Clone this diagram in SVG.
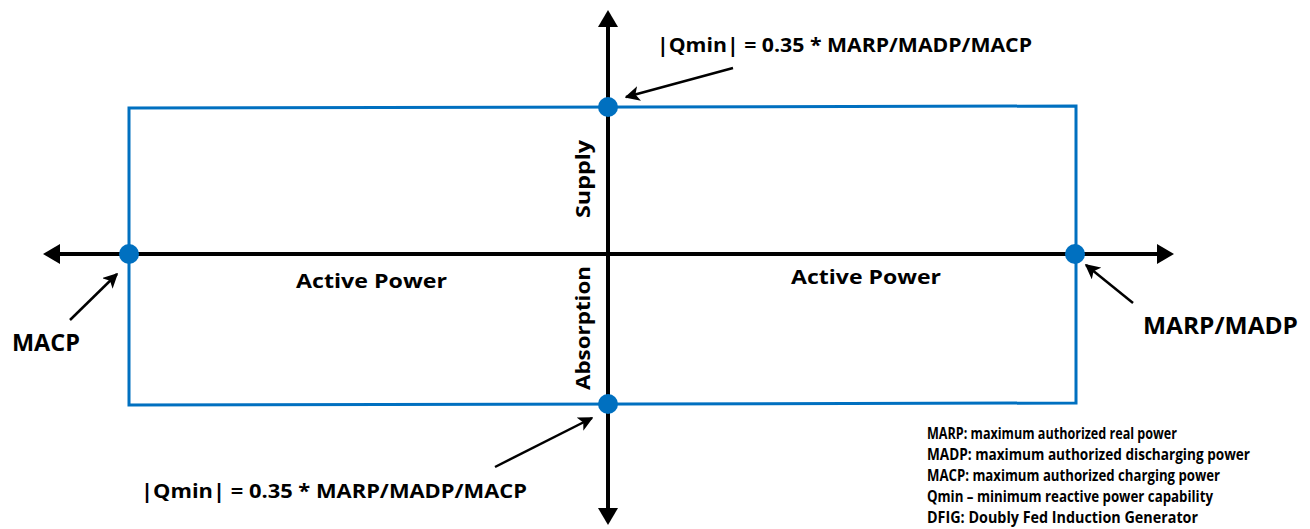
<svg xmlns="http://www.w3.org/2000/svg" width="1310" height="529" viewBox="0 0 1310 529">
  <style>
    text { font-family: "Open Sans", "Noto Sans", "Liberation Sans", sans-serif; font-weight: 700; fill: #000; }
    .axis { stroke: #000; stroke-width: 4; fill: none; }
    .note { stroke: #000; stroke-width: 2.5; fill: none; }
    .region { stroke: #0070C0; stroke-width: 3; fill: none; }
    .pt { fill: #0070C0; }
    .lbl { font-size: 20px; }
    .big { font-size: 23px; }
    .legend { font-size: 15.5px; }
  </style>
  <defs>
    <marker id="axisHead" viewBox="0 0 17 20" refX="2" refY="10" markerWidth="17" markerHeight="20" orient="auto" markerUnits="userSpaceOnUse">
      <path d="M0,0 L17,10 L0,20 Z" fill="#000"/>
    </marker>
    <marker id="noteHead" viewBox="0 0 10 10" refX="9" refY="5" markerWidth="6" markerHeight="6" orient="auto" markerUnits="strokeWidth">
      <path d="M0,0 L10,5 L0,10 L2.5,5 Z" fill="#000"/>
    </marker>
  </defs>

  <!-- operating region boundary -->
  <g id="region">
    <polygon class="region" points="129,108 1076,106 1076,403 129,405"/>
  </g>

  <!-- connectors: axes and annotation pointers -->
  <g id="connectors">
    <line class="axis" x1="608" y1="512" x2="608" y2="25"  marker-end="url(#axisHead)"/>
    <line class="axis" x1="608" y1="150" x2="608" y2="510" marker-end="url(#axisHead)"/>
    <line class="axis" x1="600" y1="254" x2="58" y2="254" marker-end="url(#axisHead)"/>
    <line class="axis" x1="600" y1="254" x2="1159" y2="254" marker-end="url(#axisHead)"/>
    <line class="note" x1="733" y1="68" x2="626" y2="97" marker-end="url(#noteHead)"/>
    <line class="note" x1="70" y1="320" x2="117" y2="274" marker-end="url(#noteHead)"/>
    <line class="note" x1="1133" y1="303" x2="1086" y2="265" marker-end="url(#noteHead)"/>
    <line class="note" x1="495" y1="467" x2="592" y2="418" marker-end="url(#noteHead)"/>
  </g>

  <!-- limit points -->
  <g id="point-qmax">
    <circle class="pt" cx="608" cy="107" r="10"/>
  </g>
  <g id="point-macp">
    <circle class="pt" cx="129" cy="254" r="10"/>
  </g>
  <g id="point-marp">
    <circle class="pt" cx="1075" cy="254" r="10"/>
  </g>
  <g id="point-qmin">
    <circle class="pt" cx="608" cy="404" r="10"/>
  </g>

  <!-- labels -->
  <g id="label-qmin-top">
    <text class="lbl" x="657" y="52" textLength="375" lengthAdjust="spacingAndGlyphs">|Qmin| = 0.35 * MARP/MADP/MACP</text>
  </g>
  <g id="label-qmin-bottom">
    <text class="lbl" x="141" y="498" textLength="386" lengthAdjust="spacingAndGlyphs">|Qmin| = 0.35 * MARP/MADP/MACP</text>
  </g>
  <g id="label-macp">
    <text class="big" x="12" y="351" textLength="68" lengthAdjust="spacingAndGlyphs">MACP</text>
  </g>
  <g id="label-marp">
    <text class="big" x="1143" y="334" textLength="155" lengthAdjust="spacingAndGlyphs">MARP/MADP</text>
  </g>
  <g id="label-active-left">
    <text class="lbl" x="296" y="288" textLength="151" lengthAdjust="spacingAndGlyphs">Active Power</text>
  </g>
  <g id="label-active-right">
    <text class="lbl" x="791" y="284" textLength="150" lengthAdjust="spacingAndGlyphs">Active Power</text>
  </g>
  <g id="label-supply">
    <text class="lbl" transform="translate(590,218) rotate(-90)" textLength="78" lengthAdjust="spacingAndGlyphs">Supply</text>
  </g>
  <g id="label-absorption">
    <text class="lbl" transform="translate(590,390) rotate(-90)" textLength="124" lengthAdjust="spacingAndGlyphs">Absorption</text>
  </g>

  <!-- abbreviation legend -->
  <g id="legend">
    <text class="legend" x="927" y="439" textLength="250" lengthAdjust="spacingAndGlyphs">MARP: maximum authorized real power</text>
    <text class="legend" x="927" y="460" textLength="323" lengthAdjust="spacingAndGlyphs">MADP: maximum authorized discharging power</text>
    <text class="legend" x="927" y="481" textLength="293" lengthAdjust="spacingAndGlyphs">MACP: maximum authorized charging power</text>
    <text class="legend" x="927" y="502" textLength="286" lengthAdjust="spacingAndGlyphs">Qmin – minimum reactive power capability</text>
    <text class="legend" x="927" y="523" textLength="271" lengthAdjust="spacingAndGlyphs">DFIG: Doubly Fed Induction Generator</text>
  </g>
</svg>
